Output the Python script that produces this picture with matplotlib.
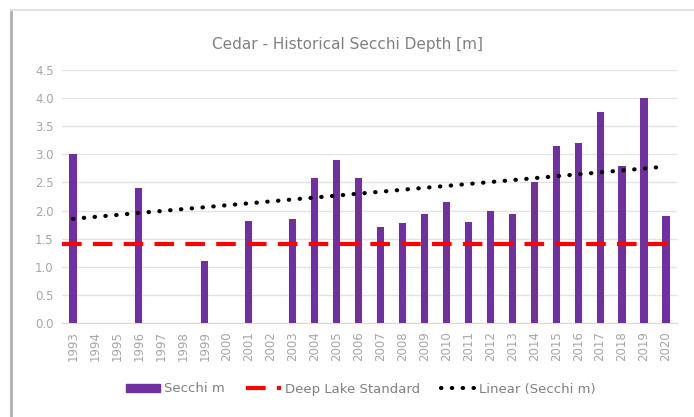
import matplotlib.pyplot as plt
import numpy as np
from matplotlib.lines import Line2D
from matplotlib.patches import Patch

years = list(range(1993, 2021))
secchi = [3.0, None, None, 2.4, None, None, 1.1, None, 1.82, None, 1.85, 2.58,
          2.9, 2.58, 1.71, 1.77, 1.93, 2.16, 1.8, 1.99, 1.94, 2.5, 3.15, 3.2,
          3.75, 2.79, 4.0, 1.9]
deep_lake_standard = 1.4

x = np.arange(len(years))
vals = np.array([np.nan if v is None else v for v in secchi])
ok = ~np.isnan(vals)

# Excel style linear trendline over the category index
slope, icpt = np.polyfit(x[ok] + 1, vals[ok], 1)
trend = slope * (x + 1) + icpt

fig = plt.figure(figsize=(6.94, 4.17), dpi=100)
ax = fig.add_axes([62 / 694, 1 - 323 / 417, 615 / 694, 253 / 417])

red_dash = (4.7, 2.7)
dots = (0, (0.1, 2.5))

ax.bar(x, np.nan_to_num(vals), width=0.33, color='#7030A0', zorder=3)
ax.plot([-0.5, len(years) - 0.5], [deep_lake_standard] * 2, color='#FF0000',
        lw=3, dashes=red_dash, zorder=4)
ax.plot(x, trend, color='black', lw=3, linestyle=dots,
        dash_capstyle='round', zorder=5)

ax.set_xlim(-0.5, len(years) - 0.5)
ax.set_ylim(0, 4.5)
ax.set_yticks(np.arange(0, 4.51, 0.5))
ax.set_yticklabels([f'{t:.1f}' for t in np.arange(0, 4.51, 0.5)])
ax.set_xticks(x)
ax.set_xticklabels([str(y) for y in years], rotation=90)
ax.tick_params(axis='both', length=0, labelsize=8.5, colors='#a6a6a6', pad=6)
ax.grid(axis='y', color='#e3e3e3', lw=1, zorder=0)
for s in ax.spines.values():
    s.set_visible(False)
ax.spines['bottom'].set_visible(True)
ax.spines['bottom'].set_color('#d9d9d9')

fig.text(0.5, 1 - 44 / 417, 'Cedar - Historical Secchi Depth [m]', ha='center',
         va='center', fontsize=11, color='#808080')

handles = [Patch(color='#7030A0'),
           Line2D([], [], color='#FF0000', lw=3, dashes=red_dash),
           Line2D([], [], color='black', lw=3, linestyle=dots,
                  dash_capstyle='round')]
labels = ['Secchi m', 'Deep Lake Standard', 'Linear (Secchi m)']
leg = fig.legend(handles, labels, loc='center', bbox_to_anchor=(0.52, 1 - 389 / 417),
                 ncol=3, frameon=False, fontsize=9.5, handlelength=2.6,
                 handleheight=0.6, handletextpad=0.3, columnspacing=1.6)
for t in leg.get_texts():
    t.set_color('#808080')

# chart frame
fig.add_artist(Line2D([11 / 694, 11 / 694], [0, 1 - 10 / 417], color='#b0b0b0', lw=2))
fig.add_artist(Line2D([11 / 694, 1], [1 - 10 / 417] * 2, color='#e0e0e0', lw=1.5))

fig.savefig('out.png', dpi=100)
